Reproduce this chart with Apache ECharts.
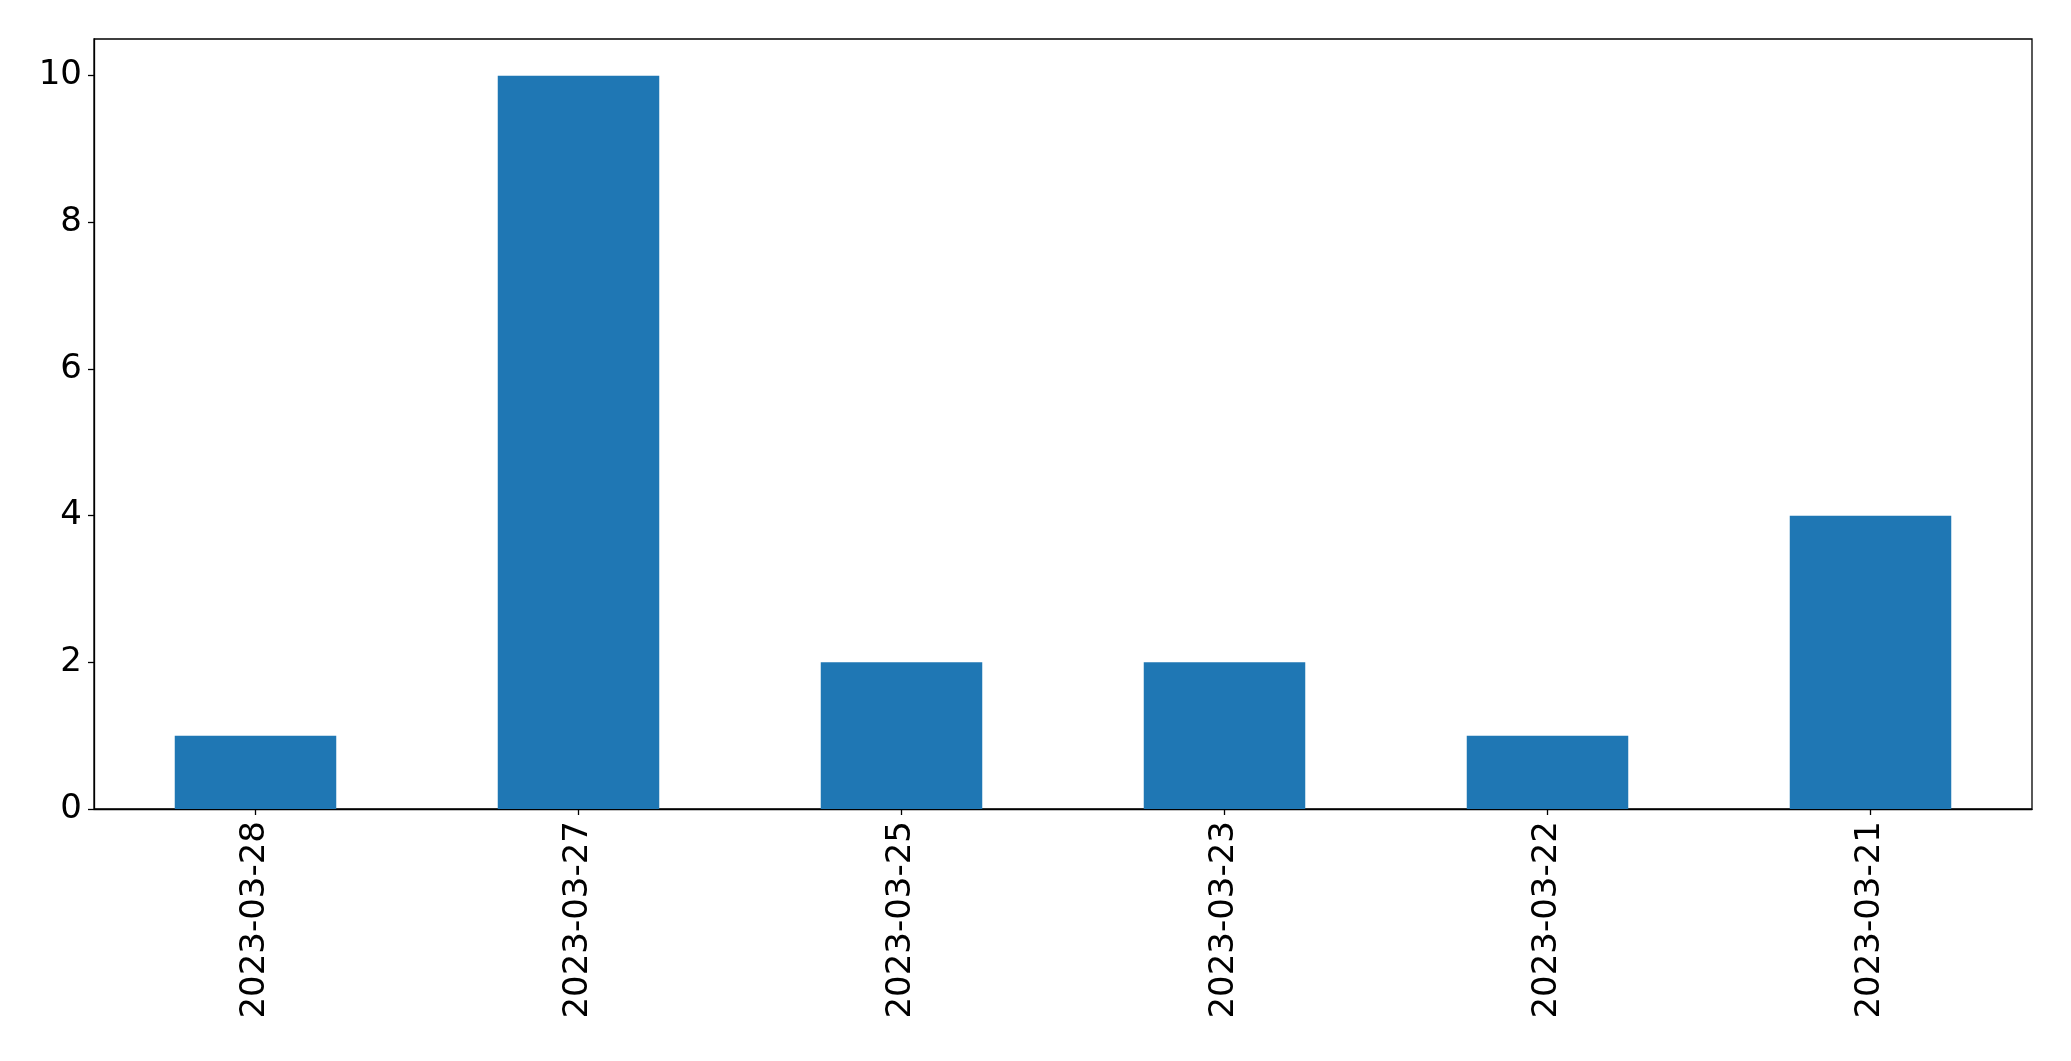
<!DOCTYPE html>
<html>
<head>
<meta charset="utf-8">
<script src="https://cdn.jsdelivr.net/npm/echarts@6/dist/echarts.min.js"></script>
<style>
html,body{margin:0;padding:0;background:#fff;}
#chart{width:2071px;height:1061px;}
</style>
</head>
<body>
<div id="chart"></div>
<script>
const categories = ['2023-03-28','2023-03-27','2023-03-25','2023-03-23','2023-03-22','2023-03-21'];
const values = [1, 10, 2, 2, 1, 4];
const yTicks = [0, 2, 4, 6, 8, 10];

const chart = echarts.init(document.getElementById('chart'));
const font = 'DejaVu Sans';
chart.setOption({
  animation: false,
  backgroundColor: '#ffffff',
  grid: {
    left: 94, right: 39, top: 39, bottom: 252,
    show: true, borderColor: '#000', borderWidth: 1.3, backgroundColor: 'transparent'
  },
  xAxis: {
    type: 'category',
    data: categories,
    axisLine: { show: true, lineStyle: { color: '#000', width: 1.3 } },
    axisTick: { show: true, alignWithLabel: true, length: 6, lineStyle: { color: '#000', width: 1.3 } },
    axisLabel: { rotate: 90, color: '#000', fontFamily: font, fontSize: 34, margin: 12 },
    splitLine: { show: false }
  },
  yAxis: {
    type: 'value',
    min: 0, max: 10.5, interval: 2,
    axisLine: { show: true, lineStyle: { color: '#000', width: 1.3 } },
    axisTick: { show: true, length: 6, lineStyle: { color: '#000', width: 1.3 }, customValues: yTicks },
    axisLabel: { color: '#000', fontFamily: font, fontSize: 34, margin: 12, customValues: yTicks },
    splitLine: { show: false }
  },
  series: [{
    type: 'bar',
    data: values,
    barWidth: '50%',
    itemStyle: { color: '#1f77b4' }
  }]
});
</script>
</body>
</html>
